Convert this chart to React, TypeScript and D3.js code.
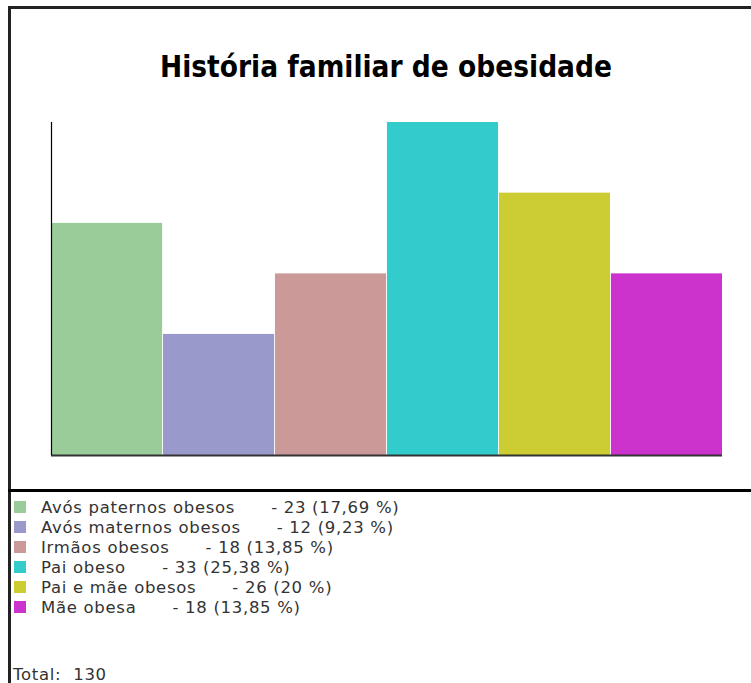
import React, { useEffect, useRef } from 'react';
import * as d3 from 'd3';

// data
const categories = [
  'Avós paternos obesos',
  'Avós maternos obesos',
  'Irmãos obesos',
  'Pai obeso',
  'Pai e mãe obesos',
  'Mãe obesa',
];
const counts = [23, 12, 18, 33, 26, 18];
const percents = ['17,69', '9,23', '13,85', '25,38', '20', '13,85'];
const colors = ['#99cc99', '#9999cc', '#cc9999', '#33cccc', '#cccc33', '#cc33cc'];
const total = 130;
const title = 'História familiar de obesidade';

function initChart(node: SVGSVGElement) {
  const W = 751;
  const H = 683;
  const plot = { left: 51, right: 722, top: 122, bottom: 455 };

  const svg = d3.select(node).attr('width', W).attr('height', H);
  svg.selectAll('*').remove();

  svg.append('rect').attr('width', W).attr('height', H).attr('fill', '#fff');

  // frame lines
  svg.append('line')
    .attr('x1', 8).attr('x2', W).attr('y1', 7.5).attr('y2', 7.5)
    .attr('stroke', '#222').attr('stroke-width', 3);
  svg.append('line')
    .attr('x1', 9.5).attr('x2', 9.5).attr('y1', 6).attr('y2', H)
    .attr('stroke', '#222').attr('stroke-width', 3);
  svg.append('line')
    .attr('x1', 8).attr('x2', W).attr('y1', 490.5).attr('y2', 490.5)
    .attr('stroke', '#000').attr('stroke-width', 3);

  // title
  svg.append('text')
    .attr('x', 386)
    .attr('y', 77)
    .attr('text-anchor', 'middle')
    .attr('textLength', 452)
    .attr('lengthAdjust', 'spacingAndGlyphs')
    .style('font-family', '"DejaVu Sans Condensed", "DejaVu Sans", sans-serif')
    .style('font-weight', 'bold')
    .style('font-size', '30px')
    .style('fill', '#000')
    .text(title);

  const xScale = d3.scaleBand()
    .domain(categories)
    .range([plot.left, plot.right])
    .paddingInner(0.008);

  const yScale = d3.scaleLinear()
    .domain([0, d3.max(counts) as number])
    .range([plot.bottom, plot.top]);

  svg.selectAll('rect.bar')
    .data(categories)
    .enter().append('rect')
    .attr('class', 'bar')
    .attr('x', d => xScale(d) as number)
    .attr('y', (d, i) => yScale(counts[i]))
    .attr('width', xScale.bandwidth())
    .attr('height', (d, i) => plot.bottom - yScale(counts[i]))
    .style('fill', (d, i) => colors[i]);

  // axes (lines only, no ticks)
  svg.append('line')
    .attr('x1', plot.left).attr('x2', plot.right)
    .attr('y1', plot.bottom + 0.5).attr('y2', plot.bottom + 0.5)
    .attr('stroke', '#333').attr('stroke-width', 2);
  svg.append('line')
    .attr('x1', plot.left + 0.5).attr('x2', plot.left + 0.5)
    .attr('y1', yScale(d3.max(counts) as number)).attr('y2', plot.bottom)
    .attr('stroke', '#000').attr('stroke-width', 1.2);

  // legend
  const legend = svg.append('g')
    .style('font-family', '"DejaVu Sans", Verdana, sans-serif')
    .style('font-size', '16.5px')
    .style('letter-spacing', '0.7px')
    .style('fill', '#333');

  const rowY = (i: number) => 507 + i * 20;

  legend.selectAll('rect')
    .data(categories)
    .enter().append('rect')
    .attr('x', 14)
    .attr('y', (d, i) => rowY(i) - 6)
    .attr('width', 12)
    .attr('height', 12)
    .style('fill', (d, i) => colors[i]);

  const rows = legend.selectAll('text')
    .data(categories)
    .enter().append('text')
    .attr('x', 41)
    .attr('y', (d, i) => rowY(i) + 6);
  rows.append('tspan').text(d => d);
  rows.append('tspan')
    .attr('dx', 36)
    .text((d, i) => `- ${counts[i]} (${percents[i]} %)`);

  legend.append('text')
    .attr('x', 13)
    .attr('y', 680)
    .style('white-space', 'pre')
    .text(`Total:  ${total}`);

  return svg.node();
}

const App = () => {
  const ref = useRef<SVGSVGElement>(null);
  useEffect(() => {
    if (ref.current) initChart(ref.current);
  }, []);

  return (
    <div style={{ position: 'absolute', left: 0, top: 0 }}>
      <svg ref={ref} style={{ display: 'block' }}></svg>
    </div>
  );
};

export default App;
